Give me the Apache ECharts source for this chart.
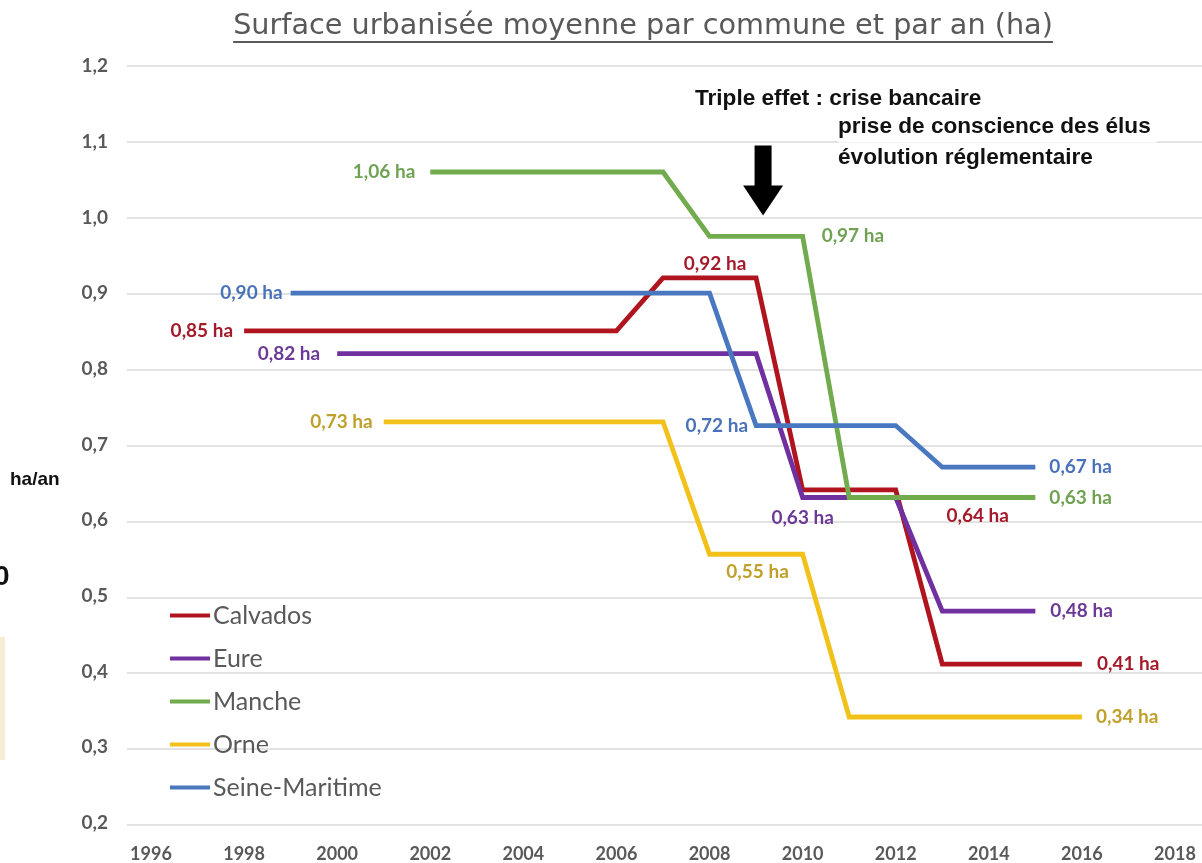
<!DOCTYPE html>
<html><head><meta charset="utf-8">
<script src="https://cdn.jsdelivr.net/npm/echarts@6/dist/echarts.min.js"></script>
<style>html,body{margin:0;padding:0;background:#fff}#c{width:1202px;height:863px}</style>
</head><body><div id="c"></div>
<script>
// ---- data ----
const TITLE = 'Surface urbanisée moyenne par commune et par an (ha)';
const Y_UNIT = 'ha/an';
const NOTE_LINES = ['Triple effet : crise bancaire', 'prise de conscience des élus', 'évolution réglementaire'];
const SERIES_NAMES = ['Calvados', 'Eure', 'Manche', 'Orne', 'Seine-Maritime'];

const calvadosYears = [1998, 2006, 2007, 2009, 2010, 2012, 2013, 2016];
const calvadosValues = [0.85, 0.85, 0.92, 0.92, 0.64, 0.64, 0.41, 0.41];
const eureYears = [2000, 2009, 2010, 2012, 2013, 2015];
const eureValues = [0.82, 0.82, 0.63, 0.63, 0.48, 0.48];
const mancheYears = [2002, 2007, 2008, 2010, 2011, 2015];
const mancheValues = [1.06, 1.06, 0.975, 0.975, 0.63, 0.63];
const orneYears = [2001, 2007, 2008, 2010, 2011, 2016];
const orneValues = [0.73, 0.73, 0.555, 0.555, 0.34, 0.34];
const seineYears = [1999, 2008, 2009, 2012, 2013, 2015];
const seineValues = [0.90, 0.90, 0.725, 0.725, 0.67, 0.67];

const X_MIN = 1996, X_MAX = 2018, X_STEP = 2;
const Y_MIN = 0.2, Y_MAX = 1.2, Y_STEP = 0.1;
const ARROW_AT = [2009.15, 1.0];

// ---- styles ----
const LINE_COLORS = ['#B0141E', '#7030A0', '#72AA4E', '#F2C21B', '#4A78C0'];
const LABEL_COLORS = ['#A31A2A', '#6C3A96', '#6FA252', '#BFA02A', '#4A72B8'];
const LABEL_PLACEMENT = [
  [{i: 0, pos: 'left', d: 11}, {i: 3, pos: 'top', d: 5, off: [-41, 0]}, {i: 5, pos: 'bottom', d: 16, off: [82, 0]}, {i: 7, pos: 'right', d: 15}],
  [{i: 0, pos: 'left', d: 17}, {i: 2, pos: 'bottom', d: 11}, {i: 5, pos: 'right', d: 15}],
  [{i: 0, pos: 'left', d: 15}, {i: 3, pos: 'right', d: 19}, {i: 5, pos: 'right', d: 14}],
  [{i: 0, pos: 'left', d: 11}, {i: 2, pos: 'bottom', d: 8, off: [48, 0]}, {i: 5, pos: 'right', d: 14}],
  [{i: 0, pos: 'left', d: 8}, {i: 2, pos: 'left', d: 8}, {i: 5, pos: 'right', d: 14}]
];

const allYears = [calvadosYears, eureYears, mancheYears, orneYears, seineYears];
const allValues = [calvadosValues, eureValues, mancheValues, orneValues, seineValues];

const fmtHa = v => (Math.floor(v * 100 + 1e-6) / 100).toFixed(2).replace('.', ',') + ' ha';

const series = SERIES_NAMES.map((name, s) => {
  const data = allYears[s].map((yr, k) => {
    const item = {value: [yr, allValues[s][k]]};
    const lp = LABEL_PLACEMENT[s].find(p => p.i === k);
    if (lp) {
      item.label = {show: true, position: lp.pos, distance: lp.d, offset: lp.off || [0, 0]};
    }
    return item;
  });
  return {
    name, type: 'line', xAxisIndex: 0, yAxisIndex: 0,
    data, symbol: 'circle', symbolSize: 0, showSymbol: true,
    lineStyle: {width: 4.8, color: LINE_COLORS[s], join: 'miter'},
    itemStyle: {color: LINE_COLORS[s]},
    label: {show: false, formatter: p => fmtHa(p.value[1]), color: LABEL_COLORS[s],
            fontFamily: 'Lato', fontWeight: 'bold', fontSize: 19},
    emphasis: {disabled: true}, animation: false
  };
});

const chart = echarts.init(document.getElementById('c'), null, {renderer: 'canvas'});

const TITLE_FONT = '28.7px "DejaVu Sans"';
const cv = document.createElement('canvas').getContext('2d');
cv.font = TITLE_FONT;
const titleW = cv.measureText(TITLE).width;

chart.setOption({
  backgroundColor: '#ffffff',
  animation: false,
  grid: [
    {left: 151, right: 27, top: 66, bottom: 38},
    {left: 127, right: 0, top: 66, bottom: 38}
  ],
  xAxis: [
    {gridIndex: 0, type: 'value', min: X_MIN, max: X_MAX, interval: X_STEP,
     axisLine: {show: false}, axisTick: {show: false}, splitLine: {show: false},
     axisLabel: {formatter: v => String(v), color: '#595959', fontFamily: 'Lato', fontWeight: 'bold', fontSize: 18, margin: 22}},
    {gridIndex: 1, type: 'value', min: X_MIN, max: X_MAX, show: false}
  ],
  yAxis: [
    {gridIndex: 0, type: 'value', min: Y_MIN, max: Y_MAX, interval: Y_STEP,
     axisLine: {show: false}, axisTick: {show: false}, splitLine: {show: false},
     axisLabel: {formatter: v => v.toFixed(1).replace('.', ','), color: '#595959', fontFamily: 'Lato', fontWeight: 'bold', fontSize: 19, margin: 43}},
    {gridIndex: 1, type: 'value', min: Y_MIN, max: Y_MAX, interval: Y_STEP,
     axisLine: {show: false}, axisTick: {show: false}, axisLabel: {show: false},
     splitLine: {show: true, lineStyle: {color: '#D9D9D9', width: 1.5}}}
  ],
  legend: {
    orient: 'vertical', left: 170, top: 603, padding: 0, itemWidth: 40, itemHeight: 4, itemGap: 18,
    icon: 'rect', data: SERIES_NAMES,
    textStyle: {fontFamily: 'Lato', fontSize: 25, color: '#595959', padding: [0, 0, 0, -2]}
  },
  series
});

const tip = chart.convertToPixel({xAxisIndex: 0, yAxisIndex: 0}, ARROW_AT);
const ax = tip[0], ay = tip[1] - 2;

chart.setOption({
  graphic: [
    {type: 'text', x: 643, y: 27, style: {text: TITLE, font: TITLE_FONT, fill: '#595959', textAlign: 'center', textVerticalAlign: 'middle'}},
    {type: 'line', shape: {x1: 643 - titleW / 2, y1: 42, x2: 643 + titleW / 2, y2: 42}, style: {stroke: '#595959', lineWidth: 2}},
    {type: 'text', x: 10, y: 480, style: {text: Y_UNIT, font: 'bold 19px "Liberation Sans"', fill: '#111', textVerticalAlign: 'middle'}},
    {type: 'text', x: -6, y: 577, style: {text: '0', font: 'bold 28px "Liberation Sans"', fill: '#111', textVerticalAlign: 'middle'}},
    {type: 'rect', shape: {x: 0, y: 637, width: 5, height: 123}, style: {fill: '#F6EDD6'}},
    {type: 'text', x: 695, y: 99, style: {text: NOTE_LINES[0], font: 'bold 22.6px "Liberation Sans"', fill: '#111', textVerticalAlign: 'middle'}},
    {type: 'text', x: 838, y: 127, style: {text: NOTE_LINES[1], font: 'bold 22.6px "Liberation Sans"', fill: '#111', textVerticalAlign: 'middle', backgroundColor: '#fff', padding: [4, 6, 4, 0]}},
    {type: 'text', x: 838, y: 158, style: {text: NOTE_LINES[2], font: 'bold 22.6px "Liberation Sans"', fill: '#111', textVerticalAlign: 'middle'}},
    {type: 'polygon', shape: {points: [
      [ax - 8.5, ay - 70], [ax + 8.5, ay - 70], [ax + 8.5, ay - 30], [ax + 20, ay - 30],
      [ax, ay], [ax - 20, ay - 30], [ax - 8.5, ay - 30]
    ]}, style: {fill: '#000'}}
  ]
});
</script></body></html>
